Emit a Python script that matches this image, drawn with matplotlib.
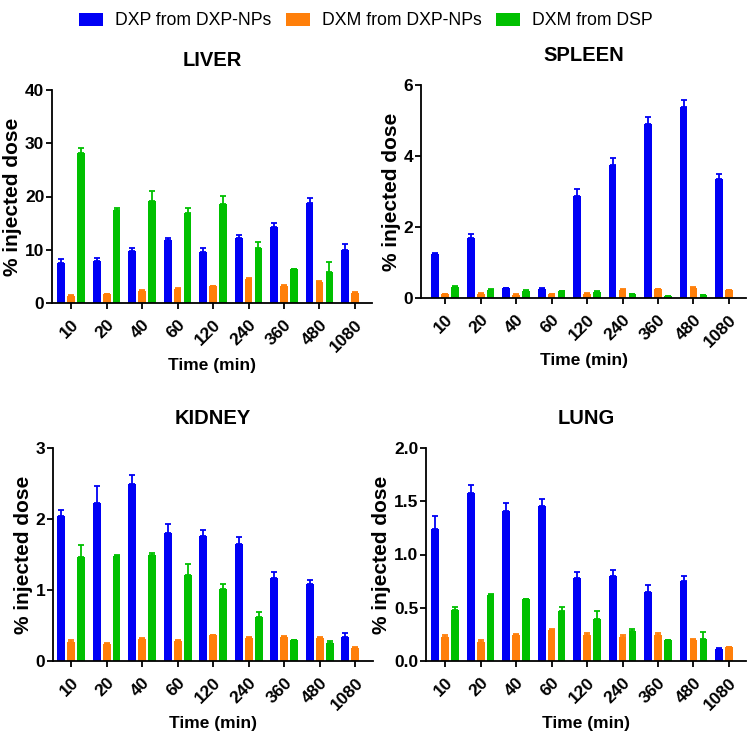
import numpy as np
import matplotlib
matplotlib.use("Agg")
import matplotlib.pyplot as plt
from matplotlib.patches import Patch

plt.rcParams['font.family'] = ['Liberation Sans', 'DejaVu Sans']

# data
times = ['10', '20', '40', '60', '120', '240', '360', '480', '1080']
series_names = ['DXP from DXP-NPs', 'DXM from DXP-NPs', 'DXM from DSP']
colors = ['#0000F5', '#FF7F0A', '#00C000']

liver_dxp = [7.6, 7.9, 9.7, 11.8, 9.6, 12.2, 14.2, 18.8, 9.9]
liver_dxp_err = [0.6, 0.6, 0.6, 0.5, 0.7, 0.6, 0.8, 0.9, 1.2]
liver_dxm = [1.4, 1.6, 2.2, 2.7, 3.1, 4.5, 3.2, 3.9, 1.9]
liver_dxm_err = [0.1, 0.1, 0.15, 0.15, 0.15, 0.15, 0.15, 0.15, 0.1]
liver_dsp = [28.1, 17.5, 19.2, 16.9, 18.6, 10.3, 6.4, 5.9, np.nan]
liver_dsp_err = [1.1, 0.3, 1.9, 1.0, 1.5, 1.1, 0.0, 1.8, np.nan]

spleen_dxp = [1.23, 1.69, 0.27, 0.25, 2.88, 3.74, 4.89, 5.37, 3.36]
spleen_dxp_err = [0.05, 0.1, 0.02, 0.02, 0.18, 0.2, 0.22, 0.2, 0.14]
spleen_dxm = [0.1, 0.12, 0.09, 0.11, 0.12, 0.22, 0.24, 0.29, 0.22]
spleen_dxm_err = [0.01, 0.01, 0.01, 0.01, 0.01, 0.02, 0.02, 0.01, 0.01]
spleen_dsp = [0.3, 0.23, 0.21, 0.19, 0.18, 0.11, 0.07, 0.075, np.nan]
spleen_dsp_err = [0.05, 0.01, 0.01, 0.01, 0.01, 0.01, 0.0, 0.0, np.nan]

kidney_dxp = [2.04, 2.23, 2.5, 1.8, 1.76, 1.65, 1.17, 1.08, 0.34]
kidney_dxp_err = [0.09, 0.24, 0.12, 0.13, 0.09, 0.1, 0.08, 0.06, 0.05]
kidney_dxm = [0.27, 0.24, 0.31, 0.28, 0.36, 0.33, 0.34, 0.33, 0.19]
kidney_dxm_err = [0.02, 0.01, 0.01, 0.01, 0.01, 0.01, 0.01, 0.01, 0.01]
kidney_dsp = [1.46, 1.48, 1.49, 1.21, 1.02, 0.62, 0.3, 0.25, np.nan]
kidney_dsp_err = [0.17, 0.01, 0.03, 0.15, 0.06, 0.07, 0.0, 0.03, np.nan]

lung_dxp = [1.24, 1.58, 1.41, 1.46, 0.78, 0.8, 0.65, 0.75, 0.11]
lung_dxp_err = [0.12, 0.07, 0.07, 0.06, 0.06, 0.05, 0.06, 0.05, 0.01]
lung_dxm = [0.225, 0.18, 0.24, 0.29, 0.24, 0.23, 0.24, 0.2, 0.13]
lung_dxm_err = [0.02, 0.02, 0.01, 0.01, 0.02, 0.01, 0.02, 0.005, 0.005]
lung_dsp = [0.48, 0.62, 0.58, 0.47, 0.39, 0.28, 0.2, 0.21, np.nan]
lung_dsp_err = [0.03, 0.005, 0.005, 0.04, 0.08, 0.02, 0.0, 0.06, np.nan]

W, H = 748, 736
fig = plt.figure(figsize=(W / 100, H / 100), dpi=100)

# panel: title, data, y ticks, pixel box (left, right, top, bottom), xlim
panels = [
    ('LIVER', (liver_dxp, liver_dxm, liver_dsp), (liver_dxp_err, liver_dxm_err, liver_dsp_err),
     [0, 10, 20, 30, 40], ['0', '10', '20', '30', '40'], (52, 372, 90, 303), (-0.54, 8.48)),
    ('SPLEEN', (spleen_dxp, spleen_dxm, spleen_dsp), (spleen_dxp_err, spleen_dxm_err, spleen_dsp_err),
     [0, 2, 4, 6], ['0', '2', '4', '6'], (421, 746, 85, 298), (-0.68, 8.48)),
    ('KIDNEY', (kidney_dxp, kidney_dxm, kidney_dsp), (kidney_dxp_err, kidney_dxm_err, kidney_dsp_err),
     [0, 1, 2, 3], ['0', '1', '2', '3'], (53, 373, 448, 661), (-0.51, 8.5)),
    ('LUNG', (lung_dxp, lung_dxm, lung_dsp), (lung_dxp_err, lung_dxm_err, lung_dsp_err),
     [0, 0.5, 1.0, 1.5, 2.0], ['0.0', '0.5', '1.0', '1.5', '2.0'], (426, 746, 448, 661), (-0.54, 8.48)),
]

x = np.arange(len(times))
width = 0.22
offsets = [-0.28, 0.0, 0.28]

for title, vals, errs, yt, ytl, box, xlim in panels:
    l, r, t, b = box
    ax = fig.add_axes([l / W, 1 - b / H, (r - l) / W, (b - t) / H])
    for k in range(3):
        v = np.array(vals[k], dtype=float)
        e = np.array(errs[k], dtype=float)
        ax.bar(x + offsets[k], v, width, color=colors[k], edgecolor='none', zorder=2)
        ax.errorbar(x + offsets[k], v, yerr=[np.zeros_like(e), e], fmt='none',
                    ecolor=colors[k], elinewidth=1.3, capsize=2.2, capthick=1.3, zorder=3)
    ax.set_xlim(*xlim)
    ax.set_ylim(yt[0], yt[-1])
    ax.set_yticks(yt)
    ax.set_yticklabels(ytl, fontsize=12.5, fontweight='bold')
    ax.set_xticks(x)
    ax.set_xticklabels(times, fontsize=12.5, fontweight='bold', rotation=45,
                       ha='right', rotation_mode='anchor')
    for s in ['top', 'right']:
        ax.spines[s].set_visible(False)
    for s in ['left', 'bottom']:
        ax.spines[s].set_linewidth(1.3)
    ax.tick_params(axis='both', width=1.3, length=4, direction='out')
    ax.tick_params(axis='y', pad=1.5)
    ax.tick_params(axis='x', pad=6)
    ax.set_ylabel('% injected dose', fontsize=15, fontweight='bold', labelpad=2)
    ax.set_xlabel('Time (min)', fontsize=12.5, fontweight='bold')
    ax.xaxis.set_label_coords(0.5, -55 / 213)
    ax.set_title(title, fontsize=14.5, fontweight='bold', pad=17)

handles = [Patch(facecolor=c, edgecolor='none') for c in colors]
fig.legend(handles, series_names, loc='upper center', bbox_to_anchor=(0.489, 1.005), ncol=3,
           frameon=False, fontsize=12.7, handlelength=1.36, handleheight=0.75,
           columnspacing=0.8, handletextpad=0.68)

fig.savefig('out.png', dpi=100)
